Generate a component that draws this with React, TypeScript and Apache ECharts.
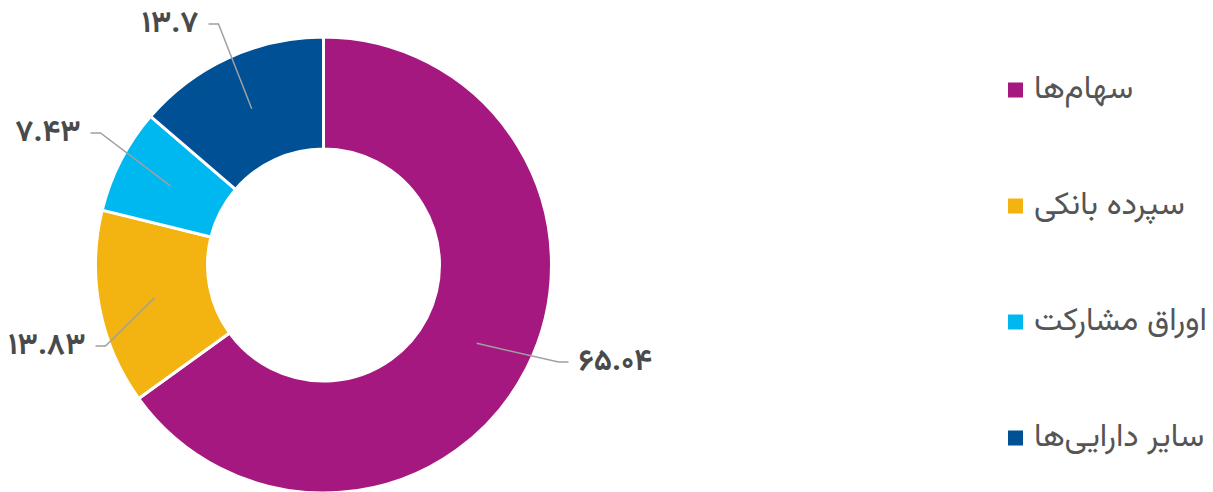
import React, { useEffect, useRef } from "react";
import * as echarts from "echarts";

const categories = ["سهام‌ها", "سپرده بانکی", "اوراق مشارکت", "سایر دارایی‌ها"];
const values = [65.04, 13.83, 7.43, 13.7];
const colors = ["#A5187F", "#F3B311", "#00B8F0", "#005096"];

// label bend points relative to the pie centre (layout only)
const labelBend = [
  [235, 97],
  [-218, 81],
  [-223, -132],
  [-105, -241],
];

const CX = 323.5;
const CY = 265;
const R_IN = 116;
const R_OUT = 228;

const toFa = (s: string) => s.replace(/[0-9]/g, (d) => "۰۱۲۳۴۵۶۷۸۹"[+d]);

const FONT = "Vazirmatn, 'Noto Sans Arabic', 'DejaVu Sans', sans-serif";

export default function App() {
  const ref = useRef<HTMLDivElement>(null);
  useEffect(() => {
    if (!ref.current) return;
    const chart = echarts.init(ref.current, undefined, { renderer: "svg" });
    const total = values.reduce((a, b) => a + b, 0);
    const mids: number[] = [];
    let acc = 0;
    values.forEach((v) => {
      mids.push(((acc + v / 2) / total) * Math.PI * 2);
      acc += v;
    });
    const rMid = (R_IN + R_OUT) / 2;
    chart.setOption({
      animation: false,
      legend: {
        orient: "vertical",
        left: 1006,
        top: 72,
        padding: 0,
        itemWidth: 17,
        itemHeight: 17,
        itemGap: 80,
        icon: "rect",
        data: categories,
        textStyle: {
          color: "#555",
          fontSize: 32,
          fontFamily: FONT,
          lineHeight: 36,
          padding: [0, 0, 0, 5],
        },
      },
      series: [
        {
          type: "pie",
          z: 2,
          center: [CX, CY],
          radius: [R_IN, R_OUT],
          startAngle: 90,
          clockwise: true,
          silent: true,
          label: { show: false },
          labelLine: { show: false },
          itemStyle: { borderColor: "#fff", borderWidth: 3 },
          data: categories.map((name, i) => ({
            name,
            value: values[i],
            itemStyle: { color: colors[i] },
          })),
        },
        {
          type: "pie",
          z: 5,
          center: [CX, CY],
          radius: [0, rMid],
          startAngle: 90,
          clockwise: true,
          avoidLabelOverlap: false,
          silent: true,
          itemStyle: { color: "rgba(0,0,0,0)", borderWidth: 0 },
          data: categories.map((name, i) => ({ name, value: values[i] })),
          label: {
            show: true,
            position: "outside",
            formatter: (p: any) => toFa(String(p.value)),
            color: "#4a4a4a",
            fontSize: 30,
            lineHeight: 32,
            fontWeight: "bold",
            fontFamily: FONT,
          },
          labelLine: {
            show: true,
            length: 20,
            length2: 10,
            lineStyle: { color: "#a0a0a0", width: 1.5 },
          },
          labelLayout: (p: any) => {
            const i = p.dataIndex;
            const a = mids[i];
            const sx = CX + rMid * Math.sin(a);
            const sy = CY - rMid * Math.cos(a);
            const bx = CX + labelBend[i][0];
            const by = CY + labelBend[i][1];
            const right = labelBend[i][0] > 0;
            const ex = bx + (right ? 10 : -10);
            return {
              x: ex + (right ? 10 : -10),
              y: by,
              align: right ? "left" : "right",
              verticalAlign: "middle",
              labelLinePoints: [
                [sx, sy],
                [bx, by],
                [ex, by],
              ],
            };
          },
        },
      ],
    });
    return () => chart.dispose();
  }, []);
  return (
    <div
      ref={ref}
      style={{ position: "absolute", left: 0, top: 0, width: 1213, height: 492 }}
    />
  );
}
